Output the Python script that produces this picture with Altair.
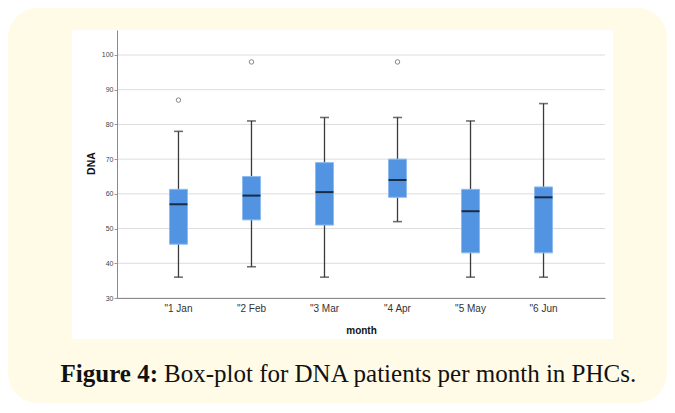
import altair as alt
import pandas as pd

months = ['"1 Jan', '"2 Feb', '"3 Mar', '"4 Apr', '"5 May', '"6 Jun']
lower = [36, 39, 36, 52, 36, 36]
q1 = [45.5, 52.5, 51, 59, 43, 43]
median = [57, 59.5, 60.5, 64, 55, 59]
q3 = [61.3, 65, 69, 70, 61.3, 62]
upper = [78, 81, 82, 82, 81, 86]

out_months = ['"1 Jan', '"2 Feb', '"4 Apr']
out_values = [87, 98, 98]

y_ticks = [30, 40, 50, 60, 70, 80, 90, 100]

box_df = pd.DataFrame({"month": months, "lower": lower, "q1": q1,
                       "median": median, "q3": q3, "upper": upper})
out_df = pd.DataFrame({"month": out_months, "value": out_values})
grid_df = pd.DataFrame({"tick": y_ticks})

W, H = 488, 268
blank = alt.Data(values=[{}])

xscale = alt.Scale(domain=months, paddingInner=0, paddingOuter=0.342)
yscale = alt.Scale(domain=[30, 107.2], nice=False, zero=False)

xaxis = alt.Axis(title="month", labelFont="Liberation Sans", labelFontSize=10,
                 labelColor="#333333", ticks=False, tickSize=0, labelPadding=5,
                 domainColor="#8a8a8a", domainWidth=1, labelAngle=0,
                 titleFont="Liberation Sans", titleFontSize=10, titleFontWeight="bold",
                 titleColor="#111111", titleY=35, titleBaseline="alphabetic",
                 zindex=1, grid=False)
yaxis = alt.Axis(title="DNA", values=y_ticks, labelFont="Liberation Sans",
                 labelFontSize=7, labelColor="#444444", tickSize=3, tickColor="#9a9a9a",
                 labelPadding=1, labelOverlap=False, labelBound=False,
                 domainColor="#8a8a8a", domainWidth=1,
                 titleFont="Liberation Sans", titleFontSize=10.5, titleFontWeight="bold",
                 titleColor="#111111", titleX=-23, titleY=133, titleAngle=-90,
                 titleBaseline="alphabetic", titleAlign="center",
                 zindex=1, grid=False)


def X():
    return alt.X("month:N", scale=xscale, axis=xaxis, sort=months)


def Y(field):
    return alt.Y(field, scale=yscale, axis=yaxis)


panel = alt.Chart(blank).mark_rect(fill="#fffbe7", cornerRadius=30).encode(
    x=alt.value(-109), x2=alt.value(550), y=alt.value(-22), y2=alt.value(373))

white = alt.Chart(blank).mark_rect(fill="white").encode(
    x=alt.value(-45), x2=alt.value(496), y=alt.value(0), y2=alt.value(309))

grid = alt.Chart(grid_df).mark_rule(color="#dcdcdc", strokeWidth=1).encode(
    y=Y("tick:Q"), x=alt.value(0), x2=alt.value(W))

base = alt.Chart(box_df)

whisker = base.mark_rule(color="#3a3a3a", strokeWidth=1.3).encode(
    x=X(), y=Y("lower:Q"), y2="upper:Q")

box = base.mark_bar(size=18, color="#5294e2", stroke="#8dbbf0", strokeWidth=1).encode(
    x=X(), y=Y("q1:Q"), y2="q3:Q")

med = base.mark_tick(color="#000000", thickness=2, size=18, orient="horizontal").encode(
    x=X(), y=Y("median:Q"))

cap_hi = base.mark_tick(color="#333333", thickness=1.6, size=9, orient="horizontal").encode(
    x=X(), y=Y("upper:Q"))

cap_lo = base.mark_tick(color="#333333", thickness=1.6, size=9, orient="horizontal").encode(
    x=X(), y=Y("lower:Q"))

outl = alt.Chart(out_df).mark_point(shape="circle", filled=False, color="#555555",
                                    size=20, strokeWidth=1).encode(
    x=X(), y=Y("value:Q"))

cap1 = alt.Chart(blank).mark_text(text="Figure 4:", font="Liberation Serif", fontSize=25,
                                  fontWeight="bold", align="right", baseline="alphabetic",
                                  color="#111111").encode(
    x=alt.value(41), y=alt.value(352))
cap2 = alt.Chart(blank).mark_text(text="Box-plot for DNA patients per month in PHCs.",
                                  font="Liberation Serif", fontSize=25, align="left",
                                  baseline="alphabetic", color="#111111").encode(
    x=alt.value(47), y=alt.value(352))

chart = alt.layer(panel, white, grid, whisker, box, med, cap_hi, cap_lo, outl, cap1, cap2).properties(
    width=W, height=H,
    padding={"left": 109, "top": 22, "right": 62, "bottom": 105},
    autosize=alt.AutoSizeParams(type="none"),
    background="white",
).configure_view(stroke=None).configure_axis(labelOverlap=False)

chart.save("out.html", embed_options={"renderer": "svg", "actions": False})
